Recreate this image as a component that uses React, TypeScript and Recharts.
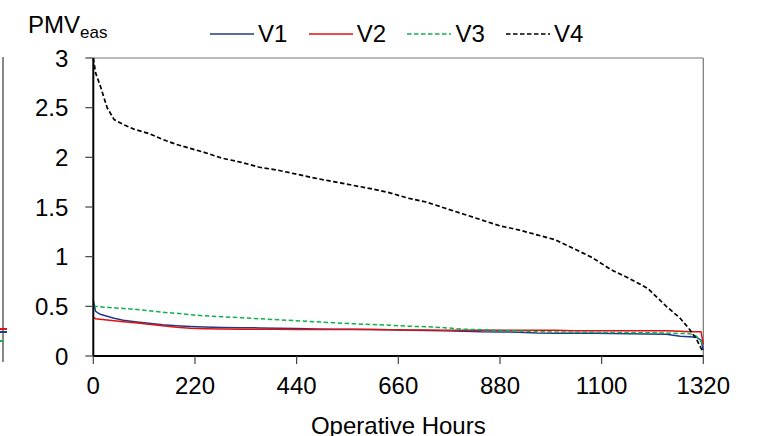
import React from 'react';
import {
  LineChart,
  Line,
  XAxis,
  YAxis,
  Legend,
  ReferenceLine,
} from 'recharts';

// operative hours (sorted duration curve)
const hours = [
  0, 5, 15, 30, 45, 65, 90, 120, 150, 180, 210, 240, 280, 320, 360, 400, 440,
  480, 520, 560, 600, 640, 680, 720, 760, 800, 840, 880, 920, 960, 1000, 1040,
  1080, 1120, 1160, 1200, 1240, 1270, 1290, 1305, 1315, 1320,
];

const v1 = [
  0.56, 0.45, 0.42, 0.4, 0.38, 0.36, 0.345, 0.33, 0.315, 0.305, 0.298, 0.293,
  0.288, 0.285, 0.283, 0.28, 0.278, 0.272, 0.27, 0.27, 0.268, 0.265, 0.26,
  0.256, 0.253, 0.25, 0.243, 0.242, 0.24, 0.232, 0.23, 0.23, 0.228, 0.226,
  0.225, 0.222, 0.22, 0.2, 0.195, 0.19, 0.16, 0.06,
];

const v2 = [
  0.39, 0.375, 0.37, 0.362, 0.355, 0.345, 0.335, 0.32, 0.305, 0.29, 0.28,
  0.275, 0.272, 0.27, 0.27, 0.27, 0.268, 0.268, 0.267, 0.266, 0.266, 0.265,
  0.262, 0.262, 0.26, 0.26, 0.26, 0.26, 0.26, 0.26, 0.26, 0.255, 0.255, 0.255,
  0.255, 0.255, 0.255, 0.248, 0.245, 0.245, 0.245, 0.12,
];

const v3 = [
  0.505, 0.5, 0.495, 0.49, 0.485, 0.478, 0.47, 0.455, 0.44, 0.43, 0.415, 0.405,
  0.395, 0.386, 0.375, 0.365, 0.355, 0.345, 0.335, 0.325, 0.318, 0.31, 0.3,
  0.295, 0.285, 0.27, 0.265, 0.258, 0.252, 0.245, 0.242, 0.24, 0.238, 0.237,
  0.235, 0.235, 0.232, 0.226, 0.225, 0.2, 0.15, 0.1,
];

const v4 = [
  3.0, 2.85, 2.72, 2.5, 2.38, 2.33, 2.28, 2.24, 2.18, 2.13, 2.09, 2.05, 1.99,
  1.95, 1.9, 1.87, 1.83, 1.79, 1.755, 1.72, 1.685, 1.645, 1.59, 1.55, 1.49,
  1.43, 1.37, 1.31, 1.27, 1.22, 1.17, 1.08, 0.99, 0.87, 0.78, 0.68, 0.5, 0.38,
  0.27, 0.17, 0.08, 0.04,
];

const xTicks = [0, 220, 440, 660, 880, 1100, 1320];
const yTicks = [0, 0.5, 1, 1.5, 2, 2.5, 3];

const series = [
  { key: 'v1', name: 'V1', color: '#1f3a8a', dash: undefined, w: 1.5 },
  { key: 'v2', name: 'V2', color: '#e01010', dash: undefined, w: 1.5 },
  { key: 'v3', name: 'V3', color: '#10b050', dash: '4.5 2.5', w: 1.5 },
  { key: 'v4', name: 'V4', color: '#000000', dash: '4.5 2.5', w: 1.7 },
];

const data = hours.map((h, i) => ({
  h,
  v1: v1[i],
  v2: v2[i],
  v3: v3[i],
  v4: v4[i],
}));

const FONT = '"Liberation Sans", Arial, sans-serif';

const renderLegend = () => (
  <div style={{ display: 'flex', fontFamily: FONT, fontSize: 24 }}>
    {series.map((s) => (
      <div
        key={s.key}
        style={{ width: 98.7, display: 'flex', alignItems: 'center' }}
      >
        <svg width={44} height={4} style={{ marginRight: 4 }}>
          <line
            x1={0}
            y1={2}
            x2={44}
            y2={2}
            stroke={s.color}
            strokeWidth={1.5}
            strokeDasharray={s.dash}
          />
        </svg>
        <span style={{ lineHeight: '26px' }}>{s.name}</span>
      </div>
    ))}
  </div>
);

export default function App() {
  return (
    <div
      style={{
        position: 'absolute',
        left: 0,
        top: 0,
        width: 761,
        height: 436,
        background: '#fff',
        fontFamily: FONT,
        overflow: 'hidden',
      }}
    >
      {/* edge of the neighbouring panel, cropped */}
      <div
        style={{
          position: 'absolute',
          left: 2,
          top: 57,
          width: 1.5,
          height: 305,
          background: '#888',
        }}
      />
      <div style={{ position: 'absolute', left: 0, top: 328, width: 7, height: 1.5, background: '#e01010' }} />
      <div style={{ position: 'absolute', left: 0, top: 331, width: 7, height: 1.5, background: '#1f3a8a' }} />
      <div style={{ position: 'absolute', left: 0, top: 340, width: 3, height: 1.5, background: '#10b050' }} />
      <LineChart
        width={761}
        height={436}
        data={data}
        margin={{ top: 58, right: 57.7, bottom: 0, left: 0 }}
      >
        <XAxis
          dataKey="h"
          type="number"
          domain={[0, 1320]}
          ticks={xTicks}
          height={80}
          tickSize={8}
          tickMargin={13}
          tick={{ fill: '#000', fontSize: 24 }}
          axisLine={{ stroke: '#000', strokeWidth: 2 }}
          tickLine={{ stroke: '#444', strokeWidth: 1.2 }}
          label={{
            value: 'Operative Hours',
            position: 'insideBottom',
            offset: 2,
            fill: '#000',
            fontSize: 24,
          }}
        />
        <YAxis
          type="number"
          domain={[0, 3]}
          ticks={yTicks}
          width={93.3}
          tickSize={8}
          tickMargin={17}
          tick={{ fill: '#000', fontSize: 24 }}
          axisLine={{ stroke: '#000', strokeWidth: 2 }}
          tickLine={{ stroke: '#444', strokeWidth: 1.2 }}
          label={{
            content: () => (
              <text x={28} y={33} fill="#000" fontSize={24}>
                PMV
                <tspan fontSize={17} dy={5}>
                  eas
                </tspan>
              </text>
            ),
          }}
        />
        <ReferenceLine y={3} stroke="#777" strokeWidth={1.2} />
        <ReferenceLine x={1320} stroke="#777" strokeWidth={1.2} />
        <Legend
          layout="horizontal"
          verticalAlign="middle"
          align="center"
          content={renderLegend}
          wrapperStyle={{ top: 21, left: 210, width: 420 }}
        />
        {series.map((s) => (
          <Line
            key={s.key}
            type="linear"
            dataKey={s.key}
            name={s.name}
            stroke={s.color}
            strokeWidth={s.w}
            strokeDasharray={s.dash}
            dot={false}
            isAnimationActive={false}
          />
        ))}
      </LineChart>
    </div>
  );
}
